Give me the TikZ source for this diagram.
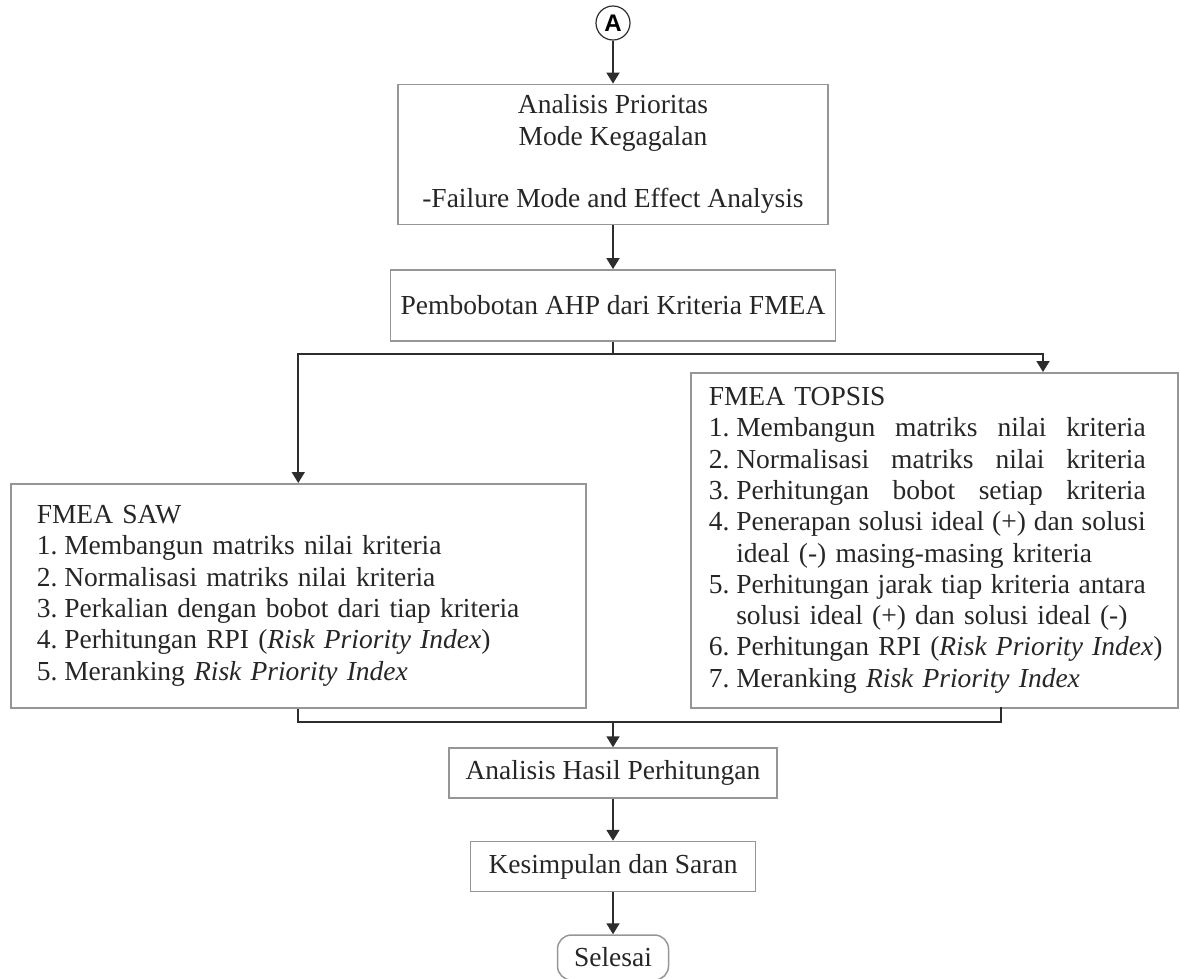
\documentclass[tikz,border=0pt]{standalone}
\usepackage{fontspec}
\setmainfont{Liberation Serif}
\setsansfont{Liberation Sans}
\usepackage{tikz}
\usetikzlibrary{arrows.meta, positioning}
\usepackage{xcolor}
\definecolor{boxgray}{RGB}{150, 150, 150}
\definecolor{linegray}{RGB}{45, 45, 45}
\newcommand{\lnum}[1]{\makebox[1em][l]{#1.}}
\newcommand{\jline}[1]{{\spaceskip=0pt\xspaceskip=0pt\makebox[437pt][s]{#1}}}
\newcommand{\rpi}{\textit{Risk Priority Index}}

\begin{document}
\begin{tikzpicture}[x=1pt, y=-1pt,
    font=\fontsize{27.5}{31.3}\selectfont,
    box/.style={draw=boxgray, line width=1.5pt, inner sep=0pt, text=black!85},
    ln/.style={draw=linegray, line width=1.8pt},
    arr/.style={ln, -{Triangle[width=13pt, length=11pt]}}]
        \useasboundingbox (0,0) rectangle (1180,978);
        % Start connector
        \node[circle, draw=linegray, line width=1.2pt, minimum size=34pt, inner sep=0pt, font=\sffamily\bfseries\fontsize{24}{24}\selectfont] (a) at (613,23) {A};
        % FMEA analysis
        \node[box, minimum width=430pt, minimum height=140pt, align=center, below=43pt of a] (fmea) {Analisis Prioritas\\Mode Kegagalan\\[31.3pt]-Failure Mode and Effect Analysis};
        % AHP weighting
        \node[box, minimum width=445pt, minimum height=71pt, below=44pt of fmea] (ahp) {Pembobotan AHP dari Kriteria FMEA};
        % SAW branch
        \node[box, anchor=north west, text width=523pt, inner xsep=26pt, minimum height=224pt, align=left] (saw) at (10,483) {FMEA SAW\\
            \lnum{1}Membangun matriks nilai kriteria\\
            \lnum{2}Normalisasi matriks nilai kriteria\\
            \lnum{3}Perkalian dengan bobot dari tiap kriteria\\
            \lnum{4}Perhitungan RPI (\rpi)\\
            \lnum{5}Meranking \rpi};
        % TOPSIS branch
        \node[box, anchor=north west, text width=451pt, inner xsep=18pt, minimum height=335pt, align=left] (topsis) at (690,372) {FMEA TOPSIS\\
            \jline{\lnum{1}Membangun matriks nilai kriteria}\\
            \jline{\lnum{2}Normalisasi matriks nilai kriteria}\\
            \jline{\lnum{3}Perhitungan bobot setiap kriteria}\\
            \jline{\lnum{4}Penerapan solusi ideal (+) dan solusi}\\
            \hspace*{1em}ideal (-) masing-masing kriteria\\
            \jline{\lnum{5}Perhitungan jarak tiap kriteria antara}\\
            \hspace*{1em}solusi ideal (+) dan solusi ideal (-)\\
            \mbox{\lnum{6}Perhitungan RPI (\rpi)}\\
            \lnum{7}Meranking \rpi};
        % Results
        \node[box, minimum width=328pt, minimum height=50pt] (hasil) at (613,773) {Analisis Hasil Perhitungan};
        \node[box, minimum width=285pt, minimum height=50pt, below=42pt of hasil] (saran) {Kesimpulan dan Saran};
        \node[box, rounded corners=14pt, minimum width=111pt, minimum height=45pt, below=42pt of saran] (selesai) {Selesai};
        % Junction points
        \coordinate (split) at (613,354);
        \coordinate (topin) at (1043,372);
        \coordinate (topout) at (1001,707);
        \coordinate (merge) at (613,722);
        % Connectors
        \draw[arr] (a) -- (fmea);
        \draw[arr] (fmea) -- (ahp);
        \draw[ln] (ahp) -- (split);
        \draw[arr] (split) -| (saw.north);
        \draw[arr] (split) -| (topin);
        \draw[ln] (saw.south) |- (merge);
        \draw[ln] (topout) |- (merge);
        \draw[arr] (merge) -- (hasil);
        \draw[arr] (hasil) -- (saran);
        \draw[arr] (saran) -- (selesai);
\end{tikzpicture}
\end{document}
